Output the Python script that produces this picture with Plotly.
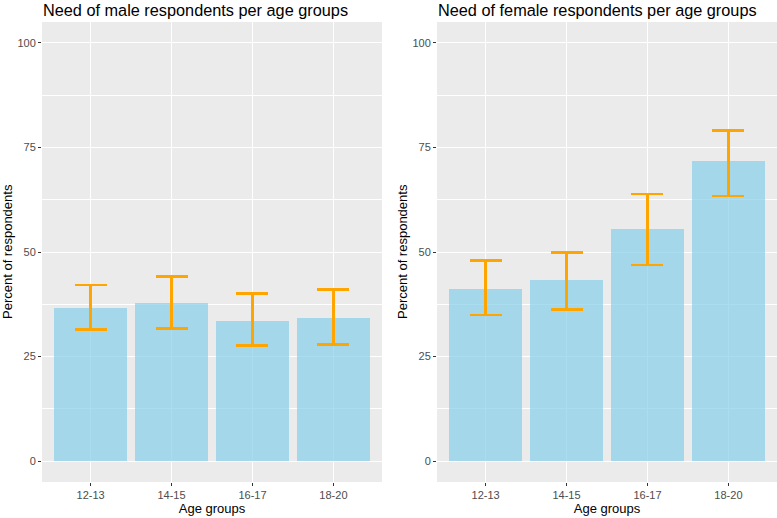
import plotly.graph_objects as go

age_groups = ["12-13", "14-15", "16-17", "18-20"]
male_pct = [36.6, 37.9, 33.6, 34.2]
male_lo = [31.4, 31.7, 27.6, 27.9]
male_hi = [42.1, 44.1, 40.1, 41.0]
female_pct = [41.2, 43.2, 55.5, 71.8]
female_lo = [34.9, 36.2, 46.9, 63.4]
female_hi = [48.0, 49.9, 63.9, 79.0]
y_ticks = [0, 25, 50, 75, 100]
titles = ["Need of male respondents per age groups", "Need of female respondents per age groups"]

W, H = 777, 518
FONT = "Liberation Sans, Arial, sans-serif"

fig = go.Figure()

panels = [
    (male_pct, male_lo, male_hi, "x", "y"),
    (female_pct, female_lo, female_hi, "x2", "y2"),
]
for vals, lo, hi, xa, ya in panels:
    fig.add_trace(go.Bar(
        x=age_groups, y=vals, xaxis=xa, yaxis=ya, width=0.9,
        marker=dict(color="rgba(135,206,235,0.7)", line=dict(width=0)),
        error_y=dict(type="data", symmetric=False,
                     array=[h - v for h, v in zip(hi, vals)],
                     arrayminus=[v - l for v, l in zip(vals, lo)],
                     color="#FFA500", thickness=2.6, width=16),
        showlegend=False, hoverinfo="skip",
    ))

def px_x(p):
    return p / W

def px_y(p):
    return 1 - p / H

top, bottom = 22, 482
doms = [(42, 382), (437, 777)]

axis_common_x = dict(
    type="category", range=[-0.6, 3.6], showgrid=True, gridcolor="white", gridwidth=1.1,
    ticks="outside", ticklen=3, tickcolor="#333333", tickwidth=1,
    tickfont=dict(family=FONT, size=11, color="#4D4D4D"),
    showline=False, zeroline=False, fixedrange=True,
    title=dict(text="Age groups", font=dict(family=FONT, size=13, color="black"), standoff=2),
)
axis_common_y = dict(
    range=[-5, 105], tickvals=y_ticks, showgrid=True, gridcolor="white", gridwidth=1.1,
    minor=dict(tick0=0, dtick=12.5, showgrid=True, gridcolor="white", gridwidth=0.5),
    ticks="outside", ticklen=3, tickcolor="#333333", tickwidth=1,
    tickfont=dict(family=FONT, size=11, color="#4D4D4D"),
    showline=False, zeroline=False, fixedrange=True,
)

fig.update_layout(
    width=W, height=H, margin=dict(l=0, r=0, t=0, b=0),
    paper_bgcolor="white", plot_bgcolor="#EBEBEB", bargap=0,
    xaxis=dict(domain=[px_x(doms[0][0]), px_x(doms[0][1])], anchor="y", **axis_common_x),
    yaxis=dict(domain=[px_y(bottom), px_y(top)], anchor="x", **axis_common_y),
    xaxis2=dict(domain=[px_x(doms[1][0]), px_x(doms[1][1])], anchor="y2", **axis_common_x),
    yaxis2=dict(domain=[px_y(bottom), px_y(top)], anchor="x2", **axis_common_y),
)

for (x0, x1), t in zip(doms, titles):
    fig.add_annotation(text=t, xref="paper", yref="paper", x=px_x(x0 - 1), y=px_y(10),
                       xanchor="left", yanchor="middle", showarrow=False,
                       font=dict(family=FONT, size=16.3, color="black"))
    fig.add_annotation(text="Percent of respondents", xref="paper", yref="paper",
                       x=px_x(x0 - 35), y=px_y((top + bottom) / 2), textangle=-90,
                       xanchor="center", yanchor="middle", showarrow=False,
                       font=dict(family=FONT, size=13, color="black"))

fig.write_html("out.html", config={"displayModeBar": False},
               post_script="document.body.style.margin='0';document.body.style.overflow='hidden';")
